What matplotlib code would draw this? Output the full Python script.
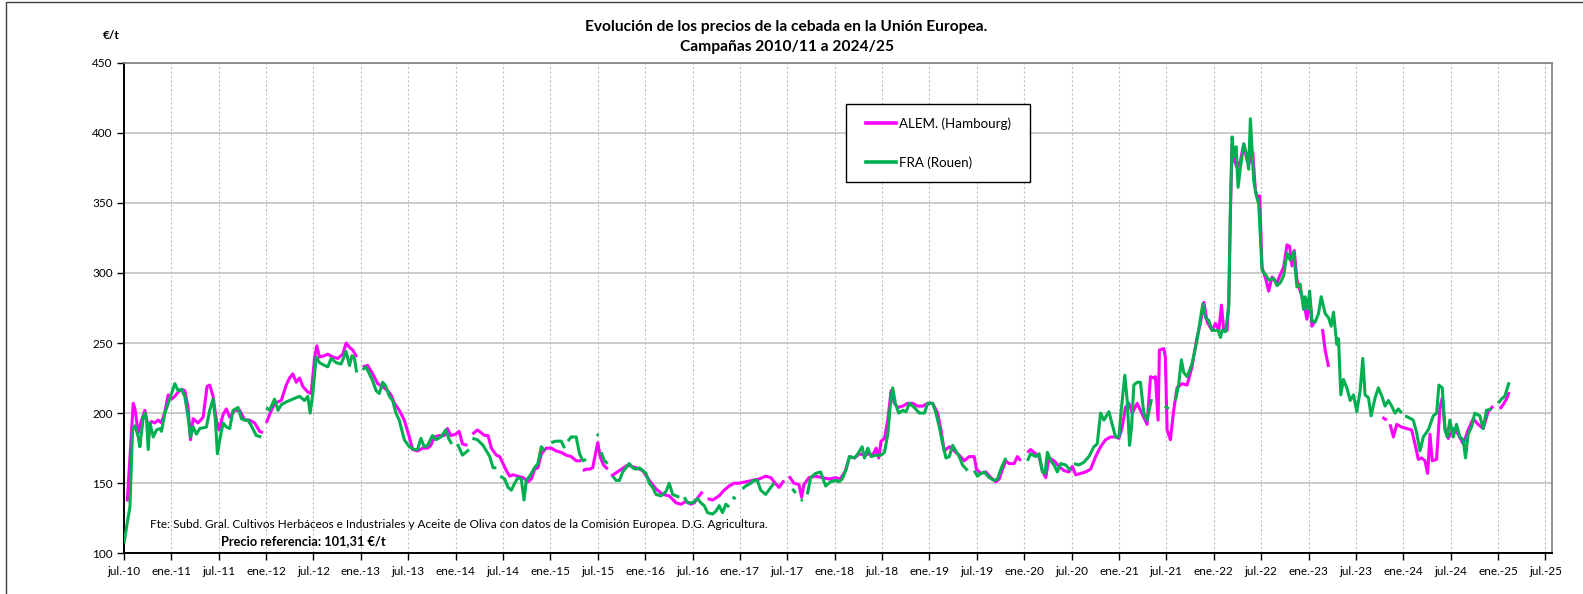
import numpy as np
import matplotlib
matplotlib.use("Agg")
import matplotlib.pyplot as plt
from matplotlib.lines import Line2D
from matplotlib.patches import Rectangle

plt.rcParams['font.family'] = ['Lato', 'DejaVu Sans']

# ---------------- data (decimal year, €/t); nan = gap ----------------
nan = np.nan
de_year = [
    2010.535, 2010.598, 2010.616, 2010.651, 2010.686, 2010.721, 2010.756, 2010.791, 2010.826, 2010.861,
    2010.896, 2010.932, 2010.967, 2011.002, 2011.037, 2011.072, 2011.107, 2011.142, 2011.177, 2011.202,
    2011.230, 2011.282, 2011.335, 2011.377, 2011.405, 2011.440, 2011.475, 2011.504, 2011.546, 2011.581,
    2011.616, 2011.668, 2011.721, 2011.774, 2011.826, 2011.879, 2011.932, 2011.967, 2011.985,
    2012.002, 2012.037, 2012.089, 2012.125, 2012.160, 2012.212, 2012.247, 2012.282, 2012.318, 2012.353,
    2012.388, 2012.440, 2012.475, 2012.511, 2012.535, 2012.563, 2012.616, 2012.651, 2012.704, 2012.756,
    2012.809, 2012.844, 2012.879, 2012.914, 2012.956, 2012.990,
    2013.019, 2013.072, 2013.125, 2013.177, 2013.230, 2013.282, 2013.318, 2013.353, 2013.405, 2013.458,
    2013.511, 2013.546, 2013.598, 2013.651, 2013.704, 2013.739, 2013.774, 2013.826, 2013.879, 2013.914,
    2013.949, 2014.002, 2014.037, 2014.072, 2014.125, 2014.150,
    2014.177, 2014.230, 2014.307, 2014.342, 2014.377, 2014.430, 2014.465, 2014.500, 2014.535, 2014.570,
    2014.605, 2014.658, 2014.711, 2014.763, 2014.798, 2014.833, 2014.868, 2014.904, 2014.956, 2015.009,
    2015.061, 2015.114, 2015.167, 2015.219, 2015.272, 2015.325, 2015.333,
    2015.342, 2015.377, 2015.412, 2015.447, 2015.475, 2015.500, 2015.525, 2015.560, 2015.605, 2015.620,
    2015.640, 2015.728, 2015.816, 2015.904, 2015.974, 2016.044, 2016.114, 2016.184, 2016.254, 2016.325,
    2016.377, 2016.430, 2016.482, 2016.518, 2016.570, 2016.605, 2016.630,
    2016.658, 2016.711, 2016.781, 2016.833, 2016.886, 2016.939, 2016.991, 2017.061, 2017.132, 2017.202,
    2017.272, 2017.325, 2017.360, 2017.412, 2017.465, 2017.490,
    2017.518, 2017.570, 2017.623, 2017.651, 2017.675, 2017.728, 2017.798, 2017.868, 2017.939, 2018.009,
    2018.061, 2018.114, 2018.156, 2018.209, 2018.261, 2018.314, 2018.367, 2018.402, 2018.437, 2018.465,
    2018.489, 2018.525, 2018.560, 2018.595, 2018.630, 2018.665, 2018.718, 2018.770, 2018.823, 2018.875,
    2018.928, 2018.981, 2019.033, 2019.086, 2019.121, 2019.156, 2019.209, 2019.261, 2019.314, 2019.367,
    2019.419, 2019.472, 2019.496, 2019.542, 2019.595, 2019.647, 2019.700, 2019.735, 2019.770, 2019.805,
    2019.840, 2019.893, 2019.928, 2019.963, 2019.995,
    2020.033, 2020.068, 2020.121, 2020.156, 2020.191, 2020.226, 2020.261, 2020.314, 2020.367, 2020.419,
    2020.472, 2020.507, 2020.542, 2020.595, 2020.647, 2020.700, 2020.753, 2020.805, 2020.858, 2020.911,
    2020.963, 2020.998, 2021.033, 2021.068, 2021.104, 2021.139, 2021.191, 2021.226, 2021.261, 2021.296,
    2021.332, 2021.367, 2021.384, 2021.412, 2021.426, 2021.472, 2021.489, 2021.507, 2021.542, 2021.577,
    2021.612, 2021.665, 2021.718, 2021.770, 2021.823, 2021.858, 2021.895, 2021.930, 2021.982, 2022.018,
    2022.053, 2022.081, 2022.105, 2022.140, 2022.158, 2022.175, 2022.193, 2022.218, 2022.246, 2022.281,
    2022.316, 2022.351, 2022.375, 2022.411, 2022.439, 2022.463, 2022.484, 2022.509, 2022.551, 2022.579,
    2022.614, 2022.667, 2022.702, 2022.737, 2022.772, 2022.800, 2022.825, 2022.849, 2022.877, 2022.912,
    2022.947, 2022.982, 2023.018, 2023.035, 2023.070, 2023.110,
    2023.147, 2023.175, 2023.211, 2023.500,
    2023.779, 2023.825, 2023.842,
    2023.860, 2023.895, 2023.930, 2023.982, 2024.035, 2024.088, 2024.123, 2024.158, 2024.193, 2024.228,
    2024.256, 2024.281, 2024.305, 2024.351, 2024.386, 2024.411, 2024.439, 2024.474, 2024.526, 2024.579,
    2024.632, 2024.684, 2024.737, 2024.789, 2024.842, 2024.895, 2024.947, 2024.980,
    2025.018, 2025.053, 2025.088, 2025.116,
]
de_price = [
    137, 207, 203, 186, 195, 202, 190, 194, 193, 195,
    193, 201, 213, 210, 212, 215, 217, 216, 204, 181,
    196, 193, 197, 219, 220, 212, 195, 188, 199, 203,
    197, 202, 202, 195, 195, 193, 187, 186, nan,
    193, 199, 207, 208, 209, 220, 225, 228, 222, 225,
    219, 215, 214, 239, 248, 240, 241, 242, 240, 239,
    242, 250, 247, 245, 240, nan,
    233, 234, 228, 221, 219, 216, 213, 207, 202, 195,
    183, 174, 173, 175, 175, 177, 183, 184, 184, 189,
    184, 185, 187, 178, 177, nan,
    185, 188, 184, 184, 175, 170, 169, 164, 159, 155,
    156, 155, 154, 151, 153, 160, 161, 171, 175, 175,
    173, 172, 170, 169, 166, 166, nan,
    159, 160, 160, 161, 171, 179, 169, 163, 160, nan,
    155, 159, 163, 161, 159, 152, 146, 142, 141, 136,
    135, 137, 135, 136, 141, 144, nan,
    139, 138, 141, 145, 148, 150, 150, 151, 152, 153,
    155, 154, 151, 147, 152, nan,
    155, 150, 149, 140, 149, 154, 155, 154, 153, 154,
    153, 159, 169, 168, 171, 170, 171, 170, 175, 168,
    180, 182, 195, 216, 207, 204, 205, 207, 207, 205,
    205, 207, 207, 200, 188, 173, 176, 173, 170, 166,
    169, 169, 160, 157, 158, 154, 151, 153, 160, 166,
    164, 164, 169, 166, nan,
    172, 174, 171, 169, 159, 154, 168, 166, 162, 159,
    158, 162, 156, 157, 158, 160, 169, 176, 181, 183,
    183, 182, 190, 204, 207, 200, 207, 202, 197, 192,
    226, 225, 226, 195, 245, 246, 240, 188, 181, 202,
    218, 221, 220, 233, 254, 264, 279, 265, 259, 264,
    259, 277, 259, 259, 280, 342, 392, 380, 375, 380,
    392, 380, 378, 386, 359, 353, 355, 304, 295, 287,
    297, 293, 299, 304, 320, 319, 305, 316, 295, 287,
    280, 267, 280, 262, 266, nan,
    260, 245, 233, nan,
    197, 195, nan,
    192, 183, 192, 190, 189, 188, 178, 167, 168, 166,
    157, 185, 166, 167, 204, 211, 189, 182, 189, 185,
    178, 188, 196, 192, 189, 201, 205, nan,
    203, 206, 210, 215,
]

fra_year = [
    2010.500, 2010.528, 2010.563, 2010.591, 2010.616, 2010.651, 2010.668, 2010.704, 2010.721, 2010.739,
    2010.756, 2010.774, 2010.791, 2010.809, 2010.844, 2010.879, 2010.896, 2010.932, 2010.967, 2011.002,
    2011.037, 2011.072, 2011.107, 2011.142, 2011.177, 2011.202, 2011.230, 2011.265, 2011.300, 2011.370,
    2011.405, 2011.440, 2011.465, 2011.486, 2011.511, 2011.546, 2011.581, 2011.616, 2011.651, 2011.704,
    2011.739, 2011.774, 2011.809, 2011.844, 2011.896, 2011.949, 2011.975,
    2012.002, 2012.037, 2012.089, 2012.125, 2012.160, 2012.212, 2012.282, 2012.353, 2012.405, 2012.440,
    2012.465, 2012.493, 2012.528, 2012.563, 2012.616, 2012.651, 2012.686, 2012.739, 2012.791, 2012.844,
    2012.879, 2012.907, 2012.932, 2012.956, 2012.990,
    2013.019, 2013.054, 2013.125, 2013.160, 2013.195, 2013.230, 2013.265, 2013.300, 2013.335, 2013.370,
    2013.405, 2013.458, 2013.511, 2013.563, 2013.598, 2013.633, 2013.668, 2013.704, 2013.756, 2013.791,
    2013.844, 2013.896, 2013.932, 2013.960, 2013.990,
    2014.019, 2014.072, 2014.107, 2014.142, 2014.160,
    2014.177, 2014.230, 2014.289, 2014.325, 2014.360, 2014.395, 2014.430, 2014.450,
    2014.472, 2014.518, 2014.553, 2014.588, 2014.623, 2014.658, 2014.693, 2014.721, 2014.746, 2014.781,
    2014.833, 2014.868, 2014.904, 2014.939, 2014.970,
    2015.009, 2015.061, 2015.114, 2015.149, 2015.165,
    2015.184, 2015.219, 2015.272, 2015.307, 2015.342, 2015.377, 2015.440,
    2015.489, 2015.507, 2015.520,
    2015.535, 2015.570, 2015.605, 2015.630,
    2015.658, 2015.693, 2015.728, 2015.763, 2015.798, 2015.833, 2015.868, 2015.904, 2015.939, 2015.974,
    2016.009, 2016.044, 2016.079, 2016.114, 2016.167, 2016.219, 2016.254, 2016.289, 2016.325, 2016.360, 2016.385,
    2016.412, 2016.447, 2016.500, 2016.553, 2016.588, 2016.623, 2016.658, 2016.711, 2016.746, 2016.781,
    2016.816, 2016.851, 2016.886, 2016.900,
    2016.921, 2016.956, 2016.990,
    2017.026, 2017.061, 2017.114, 2017.149, 2017.184, 2017.219, 2017.272, 2017.325, 2017.360, 2017.450,
    2017.553, 2017.588, 2017.610,
    2017.640, 2017.665, 2017.690,
    2017.711, 2017.746, 2017.798, 2017.851, 2017.904, 2017.956, 2018.009, 2018.044, 2018.079, 2018.121,
    2018.156, 2018.209, 2018.244, 2018.289, 2018.314, 2018.349, 2018.384, 2018.437, 2018.489, 2018.525,
    2018.560, 2018.584, 2018.612, 2018.640, 2018.675, 2018.718, 2018.753, 2018.788, 2018.840, 2018.893,
    2018.946, 2018.981, 2019.033, 2019.068, 2019.104, 2019.139, 2019.174, 2019.209, 2019.244, 2019.279,
    2019.314, 2019.349, 2019.402, 2019.440,
    2019.472, 2019.507, 2019.542, 2019.577, 2019.630, 2019.682, 2019.718, 2019.753, 2019.805, 2019.900,
    2020.033, 2020.068, 2020.121, 2020.156, 2020.191, 2020.219, 2020.244, 2020.279, 2020.314, 2020.349,
    2020.384, 2020.437, 2020.489, 2020.507,
    2020.525, 2020.577, 2020.630, 2020.682, 2020.735, 2020.770, 2020.805, 2020.840, 2020.893, 2020.928,
    2020.963, 2020.998, 2021.026, 2021.061, 2021.086, 2021.111, 2021.132, 2021.156, 2021.191, 2021.226,
    2021.261, 2021.296, 2021.342, 2021.410,
    2021.482, 2021.525, 2021.560,
    2021.595, 2021.630, 2021.658, 2021.682, 2021.718, 2021.770, 2021.823, 2021.884, 2021.912, 2021.947,
    2021.982, 2022.018, 2022.046, 2022.070, 2022.088, 2022.123, 2022.158, 2022.175, 2022.193, 2022.211,
    2022.235, 2022.256, 2022.281, 2022.316, 2022.344, 2022.368, 2022.386, 2022.421, 2022.446, 2022.474,
    2022.509, 2022.544, 2022.579, 2022.632, 2022.667, 2022.702, 2022.737, 2022.772, 2022.807, 2022.842,
    2022.877, 2022.912, 2022.947, 2022.965, 2022.993, 2023.011, 2023.035, 2023.070, 2023.105, 2023.133,
    2023.175, 2023.211, 2023.239, 2023.263, 2023.298, 2023.316, 2023.340, 2023.368, 2023.404, 2023.439,
    2023.474, 2023.509, 2023.544, 2023.572, 2023.596, 2023.632, 2023.660, 2023.702, 2023.737, 2023.779,
    2023.807, 2023.842, 2023.877, 2023.912, 2023.947, 2023.982, 2024.000,
    2024.018, 2024.053, 2024.105, 2024.140, 2024.175, 2024.211, 2024.263, 2024.316, 2024.351, 2024.375,
    2024.411, 2024.439, 2024.463, 2024.491, 2024.526, 2024.561, 2024.596, 2024.632, 2024.656, 2024.684,
    2024.719, 2024.754, 2024.807, 2024.842, 2024.877, 2024.930, 2024.965,
    2025.000, 2025.035, 2025.070, 2025.116,
]
fra_price = [
    107, 119, 133, 188, 191, 183, 176, 197, 200, 195,
    174, 193, 188, 183, 188, 189, 187, 200, 207, 214,
    221, 216, 217, 212, 197, 183, 190, 185, 189, 190,
    202, 210, 195, 171, 181, 193, 190, 189, 202, 204,
    196, 195, 195, 191, 184, 183, nan,
    204, 202, 210, 202, 206, 208, 210, 212, 209, 212,
    200, 214, 240, 236, 234, 233, 239, 236, 235, 244,
    234, 241, 239, 229, nan,
    231, 233, 223, 216, 214, 222, 219, 212, 209, 200,
    195, 181, 176, 174, 174, 182, 176, 177, 184, 181,
    183, 188, 181, 178, nan,
    178, 170, 172, 174, nan,
    182, 181, 177, 173, 169, 161, 161, nan,
    155, 153, 147, 145, 150, 154, 153, 138, 152, 155,
    161, 164, 176, 173, nan,
    179, 180, 180, 175, nan,
    180, 183, 183, 171, 166, 167, nan,
    185, 184, nan,
    172, 166, 164, nan,
    155, 152, 152, 158, 161, 164, 161, 160, 161, 159,
    157, 150, 147, 142, 141, 144, 150, 142, 141, 140, nan,
    140, 136, 136, 139, 136, 134, 129, 128, 130, 134,
    129, 135, 133, nan,
    140, 139, nan,
    146, 148, 150, 152, 152, 145, 142, 147, 150, nan,
    146, 143, nan,
    138, 138, nan,
    142, 154, 157, 158, 148, 151, 152, 151, 153, 160,
    169, 168, 171, 176, 168, 175, 169, 170, 170, 172,
    185, 204, 218, 207, 200, 202, 201, 207, 204, 200,
    200, 207, 207, 200, 190, 178, 168, 169, 177, 173,
    169, 163, 159, nan,
    159, 155, 157, 158, 154, 152, 153, 160, 168, nan,
    166, 171, 169, 171, 158, 157, 172, 166, 163, 158,
    164, 163, 159, nan,
    164, 163, 165, 169, 176, 178, 200, 195, 201, 192,
    183, 183, 204, 227, 209, 177, 190, 220, 222, 222,
    200, 195, 210, nan,
    205, 203, nan,
    209, 221, 238, 229, 226, 235, 252, 278, 268, 266,
    259, 259, 259, 254, 259, 258, 276, 347, 397, 383,
    390, 361, 375, 392, 385, 374, 410, 366, 356, 349,
    302, 299, 295, 296, 291, 293, 298, 314, 309, 315,
    290, 292, 274, 283, 274, 287, 266, 265, 271, 283,
    271, 268, 262, 272, 249, 253, 213, 224, 218, 209,
    213, 201, 216, 239, 213, 211, 198, 211, 218, 211,
    205, 209, 205, 200, 203, 200, nan,
    198, 197, 195, 186, 173, 183, 188, 198, 200, 220,
    218, 188, 183, 195, 183, 192, 183, 181, 168, 185,
    190, 200, 198, 189, 202, 203, nan,
    207, 210, 212, 222,
]

series_names = ["ALEM. (Hambourg)", "FRA (Rouen)"]
series_colors = ["#FF00FF", "#00B050"]

tick_labels = ["jul.-10", "ene.-11", "jul.-11", "ene.-12", "jul.-12", "ene.-13", "jul.-13",
               "ene.-14", "jul.-14", "ene.-15", "jul.-15", "ene.-16", "jul.-16", "ene.-17",
               "jul.-17", "ene.-18", "jul.-18", "ene.-19", "jul.-19", "ene.-20", "jul.-20",
               "ene.-21", "jul.-21", "ene.-22", "jul.-22", "ene.-23", "jul.-23", "ene.-24",
               "jul.-24", "ene.-25", "jul.-25"]
y_ticks = [100, 150, 200, 250, 300, 350, 400, 450]

W, H = 1583, 594

# ---------------- figure ----------------
fig = plt.figure(figsize=(15.83, 5.94), dpi=100)
ax = fig.add_axes([0.0783, 0.0685, 0.9802 - 0.0783, 0.8946 - 0.0685])

ax.plot(np.array(de_year), np.array(de_price, dtype=float), color=series_colors[0], lw=2.2,
        solid_joinstyle='round', solid_capstyle='butt', zorder=3)
ax.plot(np.array(fra_year), np.array(fra_price, dtype=float), color=series_colors[1], lw=2.2,
        solid_joinstyle='round', solid_capstyle='butt', zorder=4)

x_ticks = [2010.5 + 0.5 * i for i in range(len(tick_labels))]
ax.set_xlim(2010.5, 2025.565)
ax.set_ylim(100, 450)
ax.set_xticks(x_ticks)
ax.set_xticklabels(tick_labels, fontsize=8.5)
ax.set_yticks(y_ticks)
ax.set_yticklabels([str(v) for v in y_ticks], fontsize=8.5)
ax.tick_params(axis='x', direction='out', length=5, width=1, pad=4, color='black')
ax.tick_params(axis='y', direction='out', length=5, width=1, pad=3, color='black')

for y in y_ticks[1:]:
    ax.axhline(y, color='#BFBFBF', lw=1.1, zorder=1)
for x in x_ticks[1:]:
    ax.axvline(x, color='#BFBFBF', lw=0.8, ls=(0, (2, 2)), zorder=1)

ax.spines['left'].set_color('black'); ax.spines['left'].set_linewidth(1.4)
ax.spines['bottom'].set_color('black'); ax.spines['bottom'].set_linewidth(1.4)
ax.spines['top'].set_color('#808080'); ax.spines['top'].set_linewidth(1.2)
ax.spines['right'].set_color('#808080'); ax.spines['right'].set_linewidth(1.2)

# legend (frame drawn separately so its padding matches the original box)
fig.patches.append(Rectangle((846 / W, 1 - 182 / H), (1030 - 846) / W, (182 - 104) / H,
                             transform=fig.transFigure, facecolor='white', edgecolor='black',
                             lw=1.0, zorder=5))
handles = [Line2D([], [], color=c, lw=2.6) for c in series_colors]
leg = fig.legend(handles, series_names, loc='center left',
                 bbox_to_anchor=(866 / W, 1 - 143 / H),
                 fontsize=9.6, frameon=False, handlelength=2.25, handletextpad=0.2,
                 labelspacing=2.0, borderpad=0, borderaxespad=0)
leg.set_zorder(6)

# texts
fig.text(0.4969, 1 - 27.0 / H, "Evolución de los precios de la cebada en la Unión Europea.",
         ha='center', va='center', fontsize=11.2, fontweight='bold')
fig.text(0.4969, 1 - 47.0 / H, "Campañas 2010/11 a 2024/25",
         ha='center', va='center', fontsize=11.2, fontweight='bold')
fig.text(111 / W, 1 - 35.3 / H, "€/t", ha='center', va='center', fontsize=8.5, fontweight='bold')
fig.text(150 / W, 1 - 525 / H,
         "Fte: Subd. Gral. Cultivos Herbáceos e Industriales y Aceite de Oliva con datos de la Comisión Europea. D.G. Agricultura.",
         ha='left', va='center', fontsize=8.45)
fig.text(221 / W, 1 - 541 / H, "Precio referencia: 101,31 €/t",
         ha='left', va='center', fontsize=9.15, fontweight='bold')

# outer frame (top and left edges visible)
fig.patches.append(Rectangle((0.0035, -0.5), 2, 0.5 + 0.9965, transform=fig.transFigure,
                             fill=False, edgecolor='#404040', lw=1.0))

fig.savefig("out.png", dpi=100)
